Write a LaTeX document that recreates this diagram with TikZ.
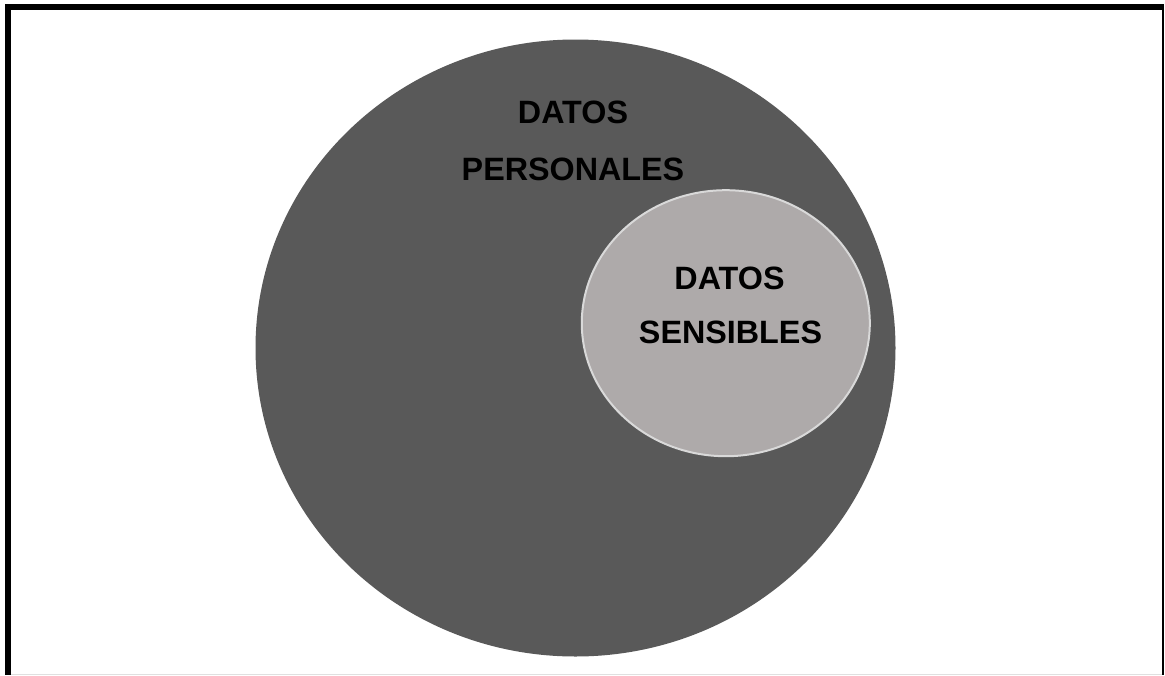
\documentclass[tikz,border=0pt]{standalone}
\usepackage{fontspec}
\setmainfont{Liberation Sans}
\definecolor{outerset}{HTML}{595959}
\definecolor{innerset}{HTML}{AEAAAA}
\definecolor{innerrim}{HTML}{D9D9D9}
\tikzset{
  setlabel/.style={anchor=base, inner sep=0pt, font=\fontsize{32.3}{32.3}\selectfont\bfseries, text=black},
}
\begin{document}
\begin{tikzpicture}[x=1pt,y=-1pt]
\useasboundingbox (0,0) rectangle (1165,675);
\fill[white] (0,0) rectangle (1165,675);
% frame
\fill[black] (5,4) rectangle (11,675);
\fill[black] (5,4) rectangle (1164,10);
\fill[black] (1162.2,4) rectangle (1164,675);
\draw[black!12, line width=1pt] (11,674.5) -- (1162,674.5);
% outer set
\fill[outerset] (575.5,348) ellipse [x radius=320, y radius=308.5];
% inner set
\filldraw[fill=innerset, draw=innerrim, line width=2pt] (725.8,323.2) ellipse [x radius=144, y radius=133];
% labels
\node[setlabel] (dp1) at (573,123.3) {DATOS};
\node[setlabel] (dp2) at (573,180) {PERSONALES};
\node[setlabel] (ds1) at (729.5,289.3) {DATOS};
\node[setlabel] (ds2) at (730.5,343.3) {SENSIBLES};
\end{tikzpicture}
\end{document}
